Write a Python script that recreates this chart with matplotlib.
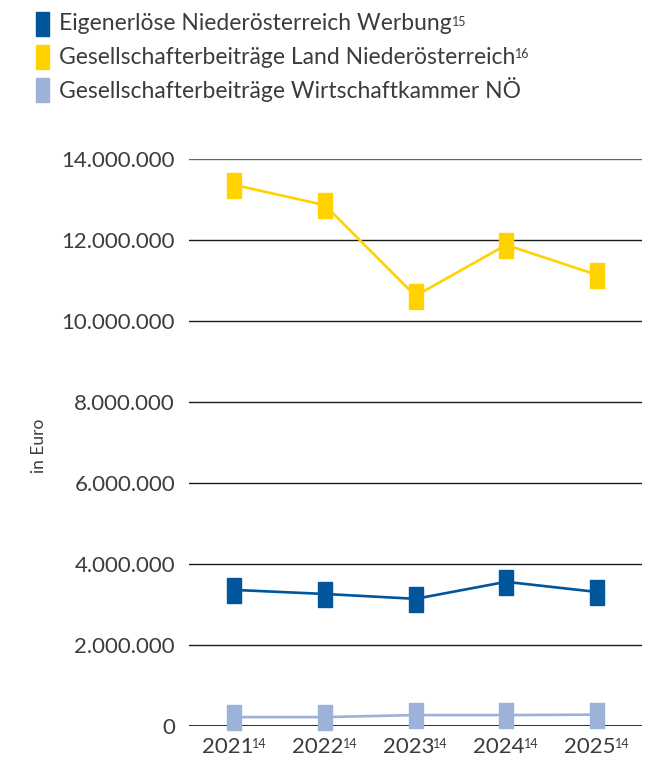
import matplotlib
matplotlib.use("Agg")
import matplotlib.pyplot as plt
from matplotlib.patches import Rectangle
from matplotlib.ticker import FuncFormatter
from matplotlib.transforms import offset_copy

plt.rcParams['font.family'] = ['Lato', 'DejaVu Sans']

years = ["2021", "2022", "2023", "2024", "2025"]
year_notes = ["14", "14", "14", "14", "14"]
eigenerloese = [3360000, 3260000, 3140000, 3560000, 3310000]
land_noe = [13360000, 12860000, 10620000, 11880000, 11140000]
wk_noe = [220000, 220000, 270000, 270000, 280000]
series_names = ["Eigenerlöse Niederösterreich Werbung", "Gesellschafterbeiträge Land Niederösterreich",
                "Gesellschafterbeiträge Wirtschaftkammer NÖ"]
series_notes = ["15", "16", ""]
colors = ["#00559B", "#FFD200", "#9DB2D9"]
yticks = [0, 2000000, 4000000, 6000000, 8000000, 10000000, 12000000, 14000000]

TXT = "#3c3c3c"
W, H = 657, 762
fig = plt.figure(figsize=(W / 100, H / 100), dpi=100)
ax = fig.add_axes([189 / W, 1 - 726 / H, (642 - 189) / W, (726 - 159) / H])

x = list(range(len(years)))
rect_marker = [(-0.28, -0.5), (0.28, -0.5), (0.28, 0.5), (-0.28, 0.5), (-0.28, -0.5)]
for vals, c in zip([eigenerloese, land_noe, wk_noe], colors):
    ax.plot(x, vals, color=c, lw=1.9, marker=rect_marker, markersize=18,
            markerfacecolor=c, markeredgecolor=c, clip_on=False, zorder=3)

ax.set_xlim(-0.5, len(years) - 0.5)
ax.set_ylim(0, 14000000)
ax.set_yticks(yticks)
ax.yaxis.set_major_formatter(FuncFormatter(lambda v, p: f"{int(v):,}".replace(",", ".")))
ax.set_xticks(x)
ax.set_xticklabels([""] * len(years))
for yt in yticks[1:]:
    ax.axhline(yt, color="#1a1a1a" if yt < 14000000 else "#666666", lw=1.0, zorder=1)
ax.axhline(0, color="#1a1a1a", lw=2.0, zorder=2)
for s in ax.spines.values():
    s.set_visible(False)
ax.tick_params(axis='both', length=0, labelsize=16, colors=TXT)
ax.tick_params(axis='y', pad=10)
ax.set_ylabel("in Euro", fontsize=12.5, color=TXT)
ax.yaxis.set_label_coords((47 - 189) / 453, 0.495)

fig.canvas.draw()
renderer = fig.canvas.get_renderer()

# x labels with superscript notes
for i, (yr, note) in enumerate(zip(years, year_notes)):
    tr = offset_copy(ax.get_xaxis_transform(), fig=fig, x=-5, y=-8, units='points')
    t = ax.text(i, 0, yr, transform=tr, fontsize=16, color=TXT,
                ha='center', va='top')
    bb = t.get_window_extent(renderer)
    fig.text((bb.x1 - 1) / W, (bb.y1 - 1) / H, note, fontsize=9, color=TXT,
             ha='left', va='top')

# legend
for i, (name, note, c) in enumerate(zip(series_names, series_notes, colors)):
    yc = 24 + 33 * i
    fig.patches.append(Rectangle((36 / W, 1 - (yc + 12) / H), 13 / W, 24 / H,
                                 transform=fig.transFigure, color=c))
    t = fig.text(59 / W, 1 - yc / H, name, fontsize=16.5, color=TXT, va="center",
                 ha="left")
    if note:
        bb = t.get_window_extent(renderer)
        fig.text((bb.x1 + 0) / W, (bb.y1 - 2) / H, note, fontsize=9, color=TXT,
                 ha='left', va='top')

fig.savefig("out.png", dpi=100)
